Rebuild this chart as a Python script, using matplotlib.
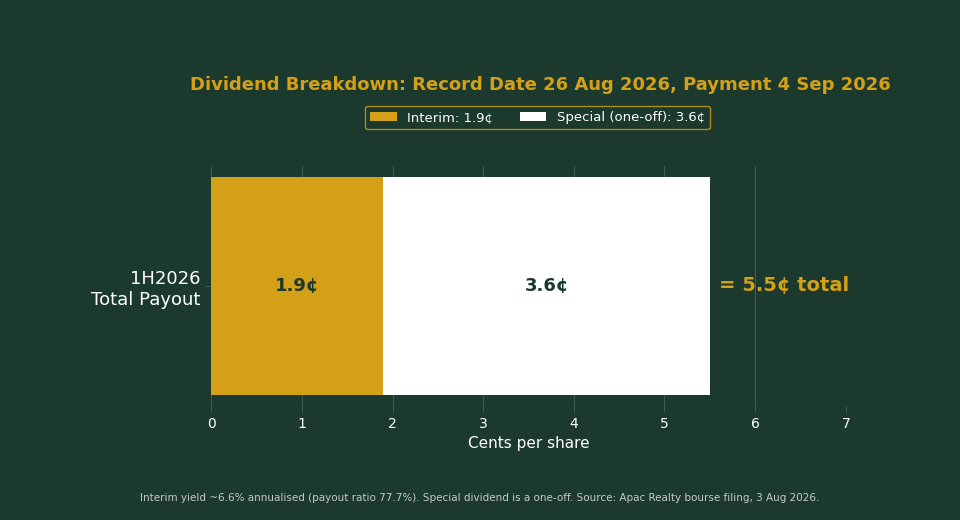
import matplotlib
matplotlib.use("Agg")
import matplotlib.pyplot as plt

categories = ["1H2026\nTotal Payout"]
interim = [1.9]
special = [3.6]
labels = ["Interim: 1.9¢", "Special (one-off): 3.6¢"]

bg = "#1b3a2d"
gold = "#d4a017"
fig = plt.figure(figsize=(9.6, 5.2), dpi=100, facecolor=bg)
ax = fig.add_axes([0.22, 0.219, 0.661, 0.462], facecolor=bg)

ax.barh(categories, interim, height=0.91, color=gold, label=labels[0], zorder=3)
ax.barh(categories, special, left=interim, height=0.91, color="white", label=labels[1], zorder=3)
ax.text(interim[0] / 2, 0, f"{interim[0]}¢", ha="center", va="center", fontsize=13, fontweight="bold", color=bg, zorder=4)
ax.text(interim[0] + special[0] / 2, 0, f"{special[0]}¢", ha="center", va="center", fontsize=13, fontweight="bold", color=bg, zorder=4)
total = interim[0] + special[0]
ax.text(total + 0.1, 0, f"= {total:.1f}¢ total", ha="left", va="center", fontsize=14, fontweight="bold", color=gold, zorder=4)

ax.set_xlim(0, 7)
ax.set_ylim(-0.5, 0.5)
ax.set_xticks(range(8))
ax.grid(axis="x", color="#3f5e50", linewidth=0.8, zorder=0)
for s in ax.spines.values():
    s.set_visible(False)
ax.tick_params(axis="x", colors="white", labelsize=10, length=4, color="#3f5e50")
ax.tick_params(axis="y", colors="white", labelsize=13, length=4, color="#3f5e50")
ax.set_xlabel("Cents per share", color="white", fontsize=11)

fig.text(0.5625, 0.837, "Dividend Breakdown: Record Date 26 Aug 2026, Payment 4 Sep 2026",
         ha="center", va="center", color=gold, fontsize=13, fontweight="bold")
leg = fig.legend(loc="center", bbox_to_anchor=(0.56, 0.774), ncol=2, facecolor=bg,
                 edgecolor=gold, labelcolor="white", fontsize=9.5)
fig.text(0.5, 0.042, "Interim yield ~6.6% annualised (payout ratio 77.7%). Special dividend is a one-off. Source: Apac Realty bourse filing, 3 Aug 2026.",
         ha="center", va="center", color="#c8c8c8", fontsize=7.5)
fig.savefig("out.png", dpi=100, facecolor=bg)
